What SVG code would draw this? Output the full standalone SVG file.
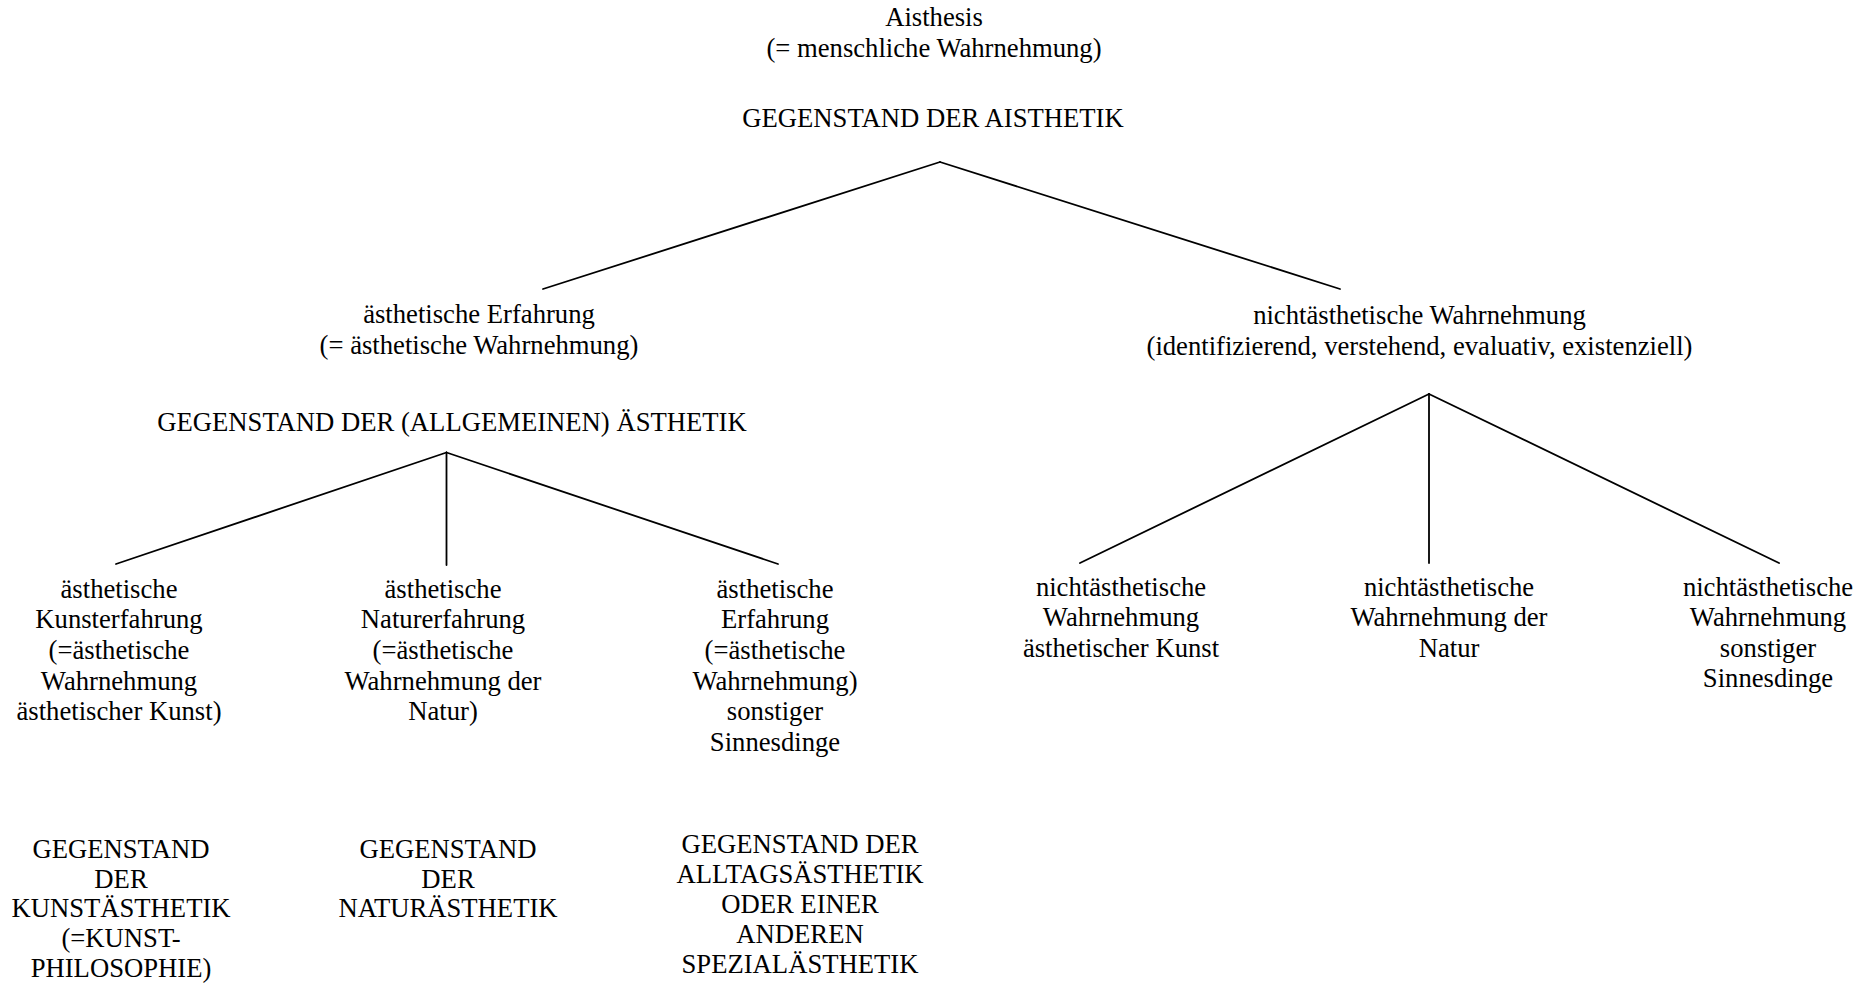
<svg xmlns="http://www.w3.org/2000/svg" width="1872" height="988" viewBox="0 0 1872 988">
<style>
text{font-family:"Liberation Serif","Times New Roman",serif;font-size:26.67px;fill:#000;text-anchor:middle}
.c line{stroke:#000;stroke-width:1.8;stroke-linecap:round}
</style>
<rect width="1872" height="988" fill="#fff"/>
<g id="connectors" class="c">
<line x1="940" y1="162" x2="543" y2="289"/>
<line x1="940" y1="162" x2="1340" y2="289"/>
<line x1="446.5" y1="452.5" x2="116" y2="564"/>
<line x1="446.5" y1="452.5" x2="446.5" y2="565"/>
<line x1="446.5" y1="452.5" x2="778" y2="564"/>
<line x1="1429" y1="394" x2="1080" y2="563"/>
<line x1="1429" y1="394" x2="1429" y2="563"/>
<line x1="1429" y1="394" x2="1779" y2="563"/>
</g>
<g id="aisthesis">
<text x="934" y="26">Aisthesis</text>
<text x="934" y="57">(= menschliche Wahrnehmung)</text>
</g>
<g id="gegenstand-aisthetik">
<text x="933" y="127">GEGENSTAND DER AISTHETIK</text>
</g>
<g id="aesth-erfahrung">
<text x="479" y="323">ästhetische Erfahrung</text>
<text x="479" y="354">(= ästhetische Wahrnehmung)</text>
</g>
<g id="gegenstand-aesthetik">
<text x="452" y="431">GEGENSTAND DER (ALLGEMEINEN) ÄSTHETIK</text>
</g>
<g id="nichtaesth">
<text x="1419.5" y="324">nichtästhetische Wahrnehmung</text>
<text x="1419.5" y="355">(identifizierend, verstehend, evaluativ, existenziell)</text>
</g>
<g id="kunsterfahrung">
<text x="119" y="597.5">ästhetische</text>
<text x="119" y="628.2">Kunsterfahrung</text>
<text x="119" y="658.9">(=ästhetische</text>
<text x="119" y="689.6">Wahrnehmung</text>
<text x="119" y="720.3">ästhetischer Kunst)</text>
</g>
<g id="naturerfahrung">
<text x="443" y="597.5">ästhetische</text>
<text x="443" y="628.2">Naturerfahrung</text>
<text x="443" y="658.9">(=ästhetische</text>
<text x="443" y="689.6">Wahrnehmung der</text>
<text x="443" y="720.3">Natur)</text>
</g>
<g id="sonstige-erfahrung">
<text x="775" y="597.5">ästhetische</text>
<text x="775" y="628.2">Erfahrung</text>
<text x="775" y="658.9">(=ästhetische</text>
<text x="775" y="689.6">Wahrnehmung)</text>
<text x="775" y="720.3">sonstiger</text>
<text x="775" y="751">Sinnesdinge</text>
</g>
<g id="nicht-kunst">
<text x="1121" y="596">nichtästhetische</text>
<text x="1121" y="626.4">Wahrnehmung</text>
<text x="1121" y="656.8">ästhetischer Kunst</text>
</g>
<g id="nicht-natur">
<text x="1449" y="596">nichtästhetische</text>
<text x="1449" y="626.4">Wahrnehmung der</text>
<text x="1449" y="656.8">Natur</text>
</g>
<g id="nicht-sonstige">
<text x="1768" y="596">nichtästhetische</text>
<text x="1768" y="626.4">Wahrnehmung</text>
<text x="1768" y="656.8">sonstiger</text>
<text x="1768" y="687.2">Sinnesdinge</text>
</g>
<g id="kunstaesthetik">
<text x="121" y="857.7">GEGENSTAND</text>
<text x="121" y="887.5">DER</text>
<text x="121" y="917.3">KUNSTÄSTHETIK</text>
<text x="121" y="947.1">(=KUNST-</text>
<text x="121" y="976.9">PHILOSOPHIE)</text>
</g>
<g id="naturaesthetik">
<text x="448" y="857.7">GEGENSTAND</text>
<text x="448" y="887.5">DER</text>
<text x="448" y="917.3">NATURÄSTHETIK</text>
</g>
<g id="alltagsaesthetik">
<text x="800" y="853.3">GEGENSTAND DER</text>
<text x="800" y="883.1">ALLTAGSÄSTHETIK</text>
<text x="800" y="912.9">ODER EINER</text>
<text x="800" y="942.7">ANDEREN</text>
<text x="800" y="972.5">SPEZIALÄSTHETIK</text>
</g>
</svg>
